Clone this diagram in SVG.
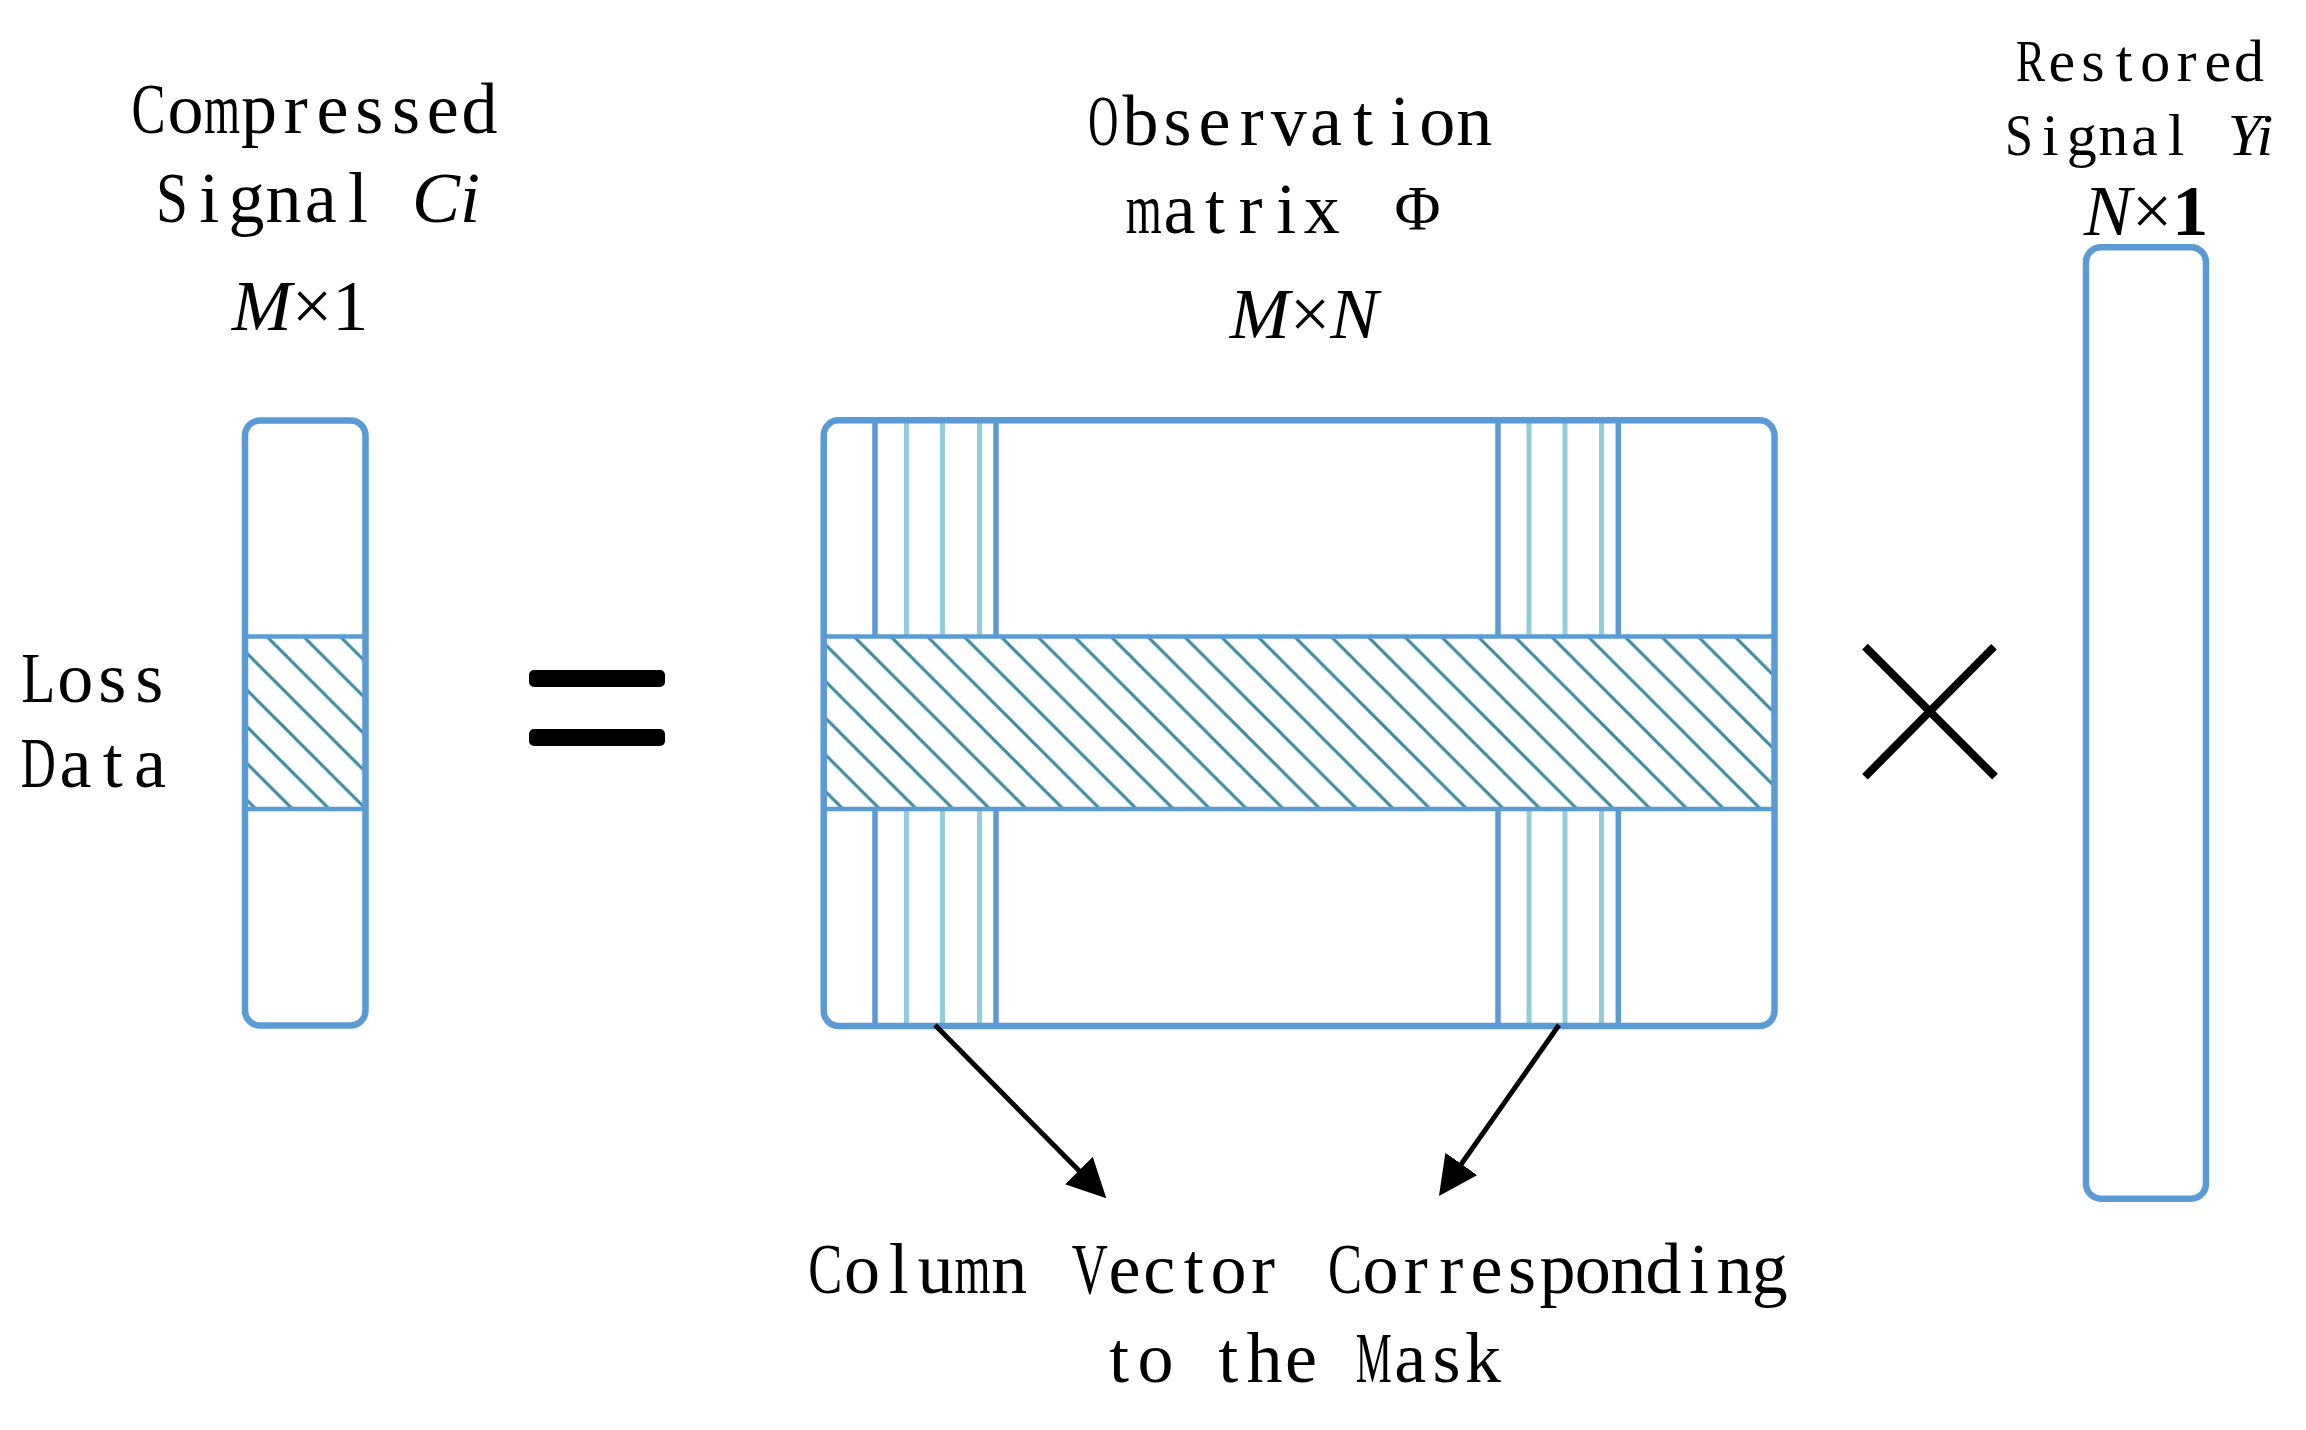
<svg xmlns="http://www.w3.org/2000/svg" width="2306" height="1430" viewBox="0 0 2306 1430">
<style>
.t{font-family:"Liberation Serif","Times New Roman","DejaVu Serif",serif;font-size:72px;fill:#000;text-anchor:middle}
.s{font-size:60px}
.i{font-style:italic}
.box{fill:none;stroke:#5b9bd5;stroke-width:6.5}
.band{stroke:#5b9bd5;stroke-width:4.5}
.col{stroke:#5b9bd5;stroke-width:5.5}
.lt{stroke:#92cddc;stroke-width:5}
.arrow{fill:none;stroke:#000;stroke-width:5}
</style>
<defs>
<pattern id="hatch" patternUnits="userSpaceOnUse" width="36.7" height="36.7" x="34" y="0">
<path d="M-4,-4 L40.7,40.7 M-4,32.7 L4,40.7 M32.7,-4 L40.7,4" stroke="#3b8a9d" stroke-width="3"/>
</pattern>
<marker id="head" markerUnits="userSpaceOnUse" markerWidth="42" markerHeight="42" refX="1" refY="19.5" orient="auto">
<path d="M0,0 L39,19.5 L0,39 Z" fill="#000"/>
</marker>
</defs>
<rect width="2306" height="1430" fill="#fff"/>

<g id="compressed-signal">
<rect x="245" y="636.5" width="120" height="172.5" fill="url(#hatch)"/>
<line class="band" x1="245" y1="636.5" x2="365" y2="636.5"/>
<line class="band" x1="245" y1="809" x2="365" y2="809"/>
<rect class="box" x="245" y="420.5" width="120.5" height="605" rx="15"/>
</g>

<g id="equals">
<rect x="529" y="670" width="136" height="17" rx="5" fill="#000"/>
<rect x="529" y="729" width="136" height="17" rx="5" fill="#000"/>
</g>

<g id="observation-matrix">
<rect x="824" y="636.5" width="950" height="172.5" fill="url(#hatch)"/>
<g>
<line class="col" x1="875" y1="420" x2="875" y2="636.5"/>
<line class="lt" x1="906.5" y1="420" x2="906.5" y2="636.5"/>
<line class="lt" x1="942.5" y1="420" x2="942.5" y2="636.5"/>
<line class="lt" x1="979.5" y1="420" x2="979.5" y2="636.5"/>
<line class="col" x1="996" y1="420" x2="996" y2="636.5"/>
<line class="col" x1="875" y1="809" x2="875" y2="1026"/>
<line class="lt" x1="906.5" y1="809" x2="906.5" y2="1026"/>
<line class="lt" x1="942.5" y1="809" x2="942.5" y2="1026"/>
<line class="lt" x1="979.5" y1="809" x2="979.5" y2="1026"/>
<line class="col" x1="996" y1="809" x2="996" y2="1026"/>
<line class="col" x1="1498" y1="420" x2="1498" y2="636.5"/>
<line class="lt" x1="1529" y1="420" x2="1529" y2="636.5"/>
<line class="lt" x1="1565" y1="420" x2="1565" y2="636.5"/>
<line class="lt" x1="1601.5" y1="420" x2="1601.5" y2="636.5"/>
<line class="col" x1="1618.3" y1="420" x2="1618.3" y2="636.5"/>
<line class="col" x1="1498" y1="809" x2="1498" y2="1026"/>
<line class="lt" x1="1529" y1="809" x2="1529" y2="1026"/>
<line class="lt" x1="1565" y1="809" x2="1565" y2="1026"/>
<line class="lt" x1="1601.5" y1="809" x2="1601.5" y2="1026"/>
<line class="col" x1="1618.3" y1="809" x2="1618.3" y2="1026"/>
</g>
<line class="band" x1="824" y1="636.5" x2="1774.5" y2="636.5"/>
<line class="band" x1="824" y1="809" x2="1774.5" y2="809"/>
<rect class="box" x="823.7" y="420.3" width="950.8" height="605.7" rx="15"/>
</g>

<g id="times">
<line x1="1865" y1="646.7" x2="1995" y2="776.7" stroke="#000" stroke-width="8"/>
<line x1="1865" y1="776.7" x2="1994" y2="646.7" stroke="#000" stroke-width="8"/>
</g>

<g id="restored-signal">
<rect class="box" x="2086" y="247.2" width="120" height="951.5" rx="15"/>
</g>

<g id="connectors">
<path class="arrow" d="M935,1025 L1079.6,1171.3" marker-end="url(#head)"/>
<path class="arrow" d="M1559,1025 L1460.8,1164.8" marker-end="url(#head)"/>
</g>

<g id="labels">
<text class="t" y="133.3"><tspan x="148.6" textLength="34" lengthAdjust="spacingAndGlyphs">C</tspan><tspan x="185.4">o</tspan><tspan x="222.1" textLength="36" lengthAdjust="spacingAndGlyphs">m</tspan><tspan x="258.9 295.7 332.5 369.2 406 442.8 479.5">pressed</tspan></text>
<text class="t" y="221.7"><tspan x="172" textLength="32" lengthAdjust="spacingAndGlyphs">S</tspan><tspan x="209.2 246.4 283.6 320.8 358 395">ignal </tspan><tspan class="i" x="446">Ci</tspan></text>
<text class="t" x="300" y="330"><tspan class="i">M</tspan>×1</text>

<text class="t" y="145"><tspan x="1103.3" textLength="30" lengthAdjust="spacingAndGlyphs">O</tspan><tspan x="1140.4 1177.5 1214.6 1251.7 1288.8 1325.9 1363 1400.1 1437.2 1474.3">bservation</tspan></text>
<text class="t" y="233.3"><tspan x="1143.8" textLength="36" lengthAdjust="spacingAndGlyphs">m</tspan><tspan x="1179.4 1215 1250.6 1286.2 1321.8 1357.4">atrix </tspan><tspan x="1417.5" y="230" font-size="63">Φ</tspan></text>
<text class="t" x="1304" y="338.3"><tspan class="i">M</tspan>×<tspan class="i">N</tspan></text>

<text class="t s" y="81"><tspan x="2030.5" textLength="29" lengthAdjust="spacingAndGlyphs">R</tspan><tspan x="2061.7 2092.9 2124.1 2155.3 2186.5 2217.7 2248.9">estored</tspan></text>
<text class="t s" y="155"><tspan x="2019" textLength="28" lengthAdjust="spacingAndGlyphs">S</tspan><tspan x="2050.4 2081.8 2113.2 2144.6 2176 2207.4">ignal </tspan><tspan class="i" x="2250.5">Yi</tspan></text>
<text class="t" x="2146" y="235"><tspan class="i">N</tspan>×<tspan font-weight="bold">1</tspan></text>

<text class="t" y="701.7"><tspan x="38.3" textLength="34" lengthAdjust="spacingAndGlyphs">L</tspan><tspan x="75.3 112.3 149.3">oss</tspan></text>
<text class="t" y="786.7"><tspan x="38.3" textLength="35" lengthAdjust="spacingAndGlyphs">D</tspan><tspan x="75.5 112.7 149.9">ata</tspan></text>

<text class="t" y="1293.3"><tspan x="825.2" textLength="34" lengthAdjust="spacingAndGlyphs">C</tspan><tspan x="862 898.8 935.6">olu</tspan><tspan x="972.4" textLength="36" lengthAdjust="spacingAndGlyphs">m</tspan><tspan x="1009.2 1049.5">n </tspan><tspan x="1089.8" textLength="36" lengthAdjust="spacingAndGlyphs">V</tspan><tspan x="1124.6 1159.2 1193.8 1228.4 1263 1304">ector </tspan><tspan x="1345" textLength="34" lengthAdjust="spacingAndGlyphs">C</tspan><tspan x="1380.4 1415.8 1451.2 1486.6 1522 1557.4 1592.8 1628.2 1663.6 1699 1734.4 1769.8">orresponding</tspan></text>
<text class="t" y="1381.7"><tspan x="1119 1155.4 1191.8 1228.2 1264.6 1301 1337.4">to the </tspan><tspan x="1373.8" textLength="36" lengthAdjust="spacingAndGlyphs">M</tspan><tspan x="1410.2 1446.6 1483">ask</tspan></text>
</g>
</svg>
